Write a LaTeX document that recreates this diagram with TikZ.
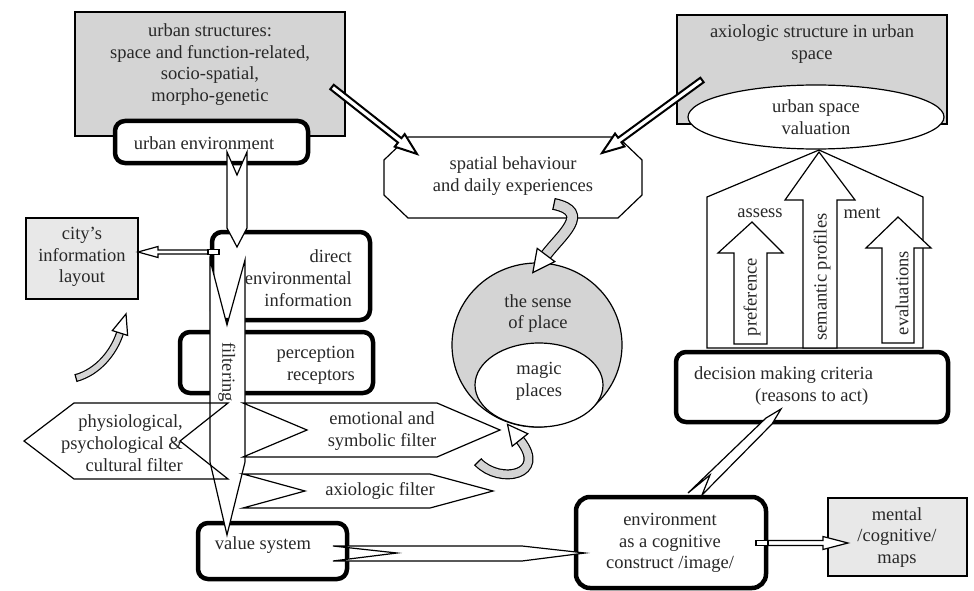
\documentclass[tikz,border=0pt]{standalone}
\usepackage{fontspec}
\setmainfont{Liberation Serif}
\usetikzlibrary{calc,shapes.geometric}

\definecolor{boxgray}{RGB}{212,212,212}
\definecolor{palegray}{RGB}{232,232,232}
\definecolor{inkgray}{RGB}{40,40,40}

% narrow block arrow: from, to, shaft half width, head half width, head length
\newcommand{\blockarrow}[6][]{%
  \coordinate (ba-s) at (#2);
  \coordinate (ba-t) at (#3);
  \coordinate (ba-h) at ($(ba-t)!#6!(ba-s)$);
  \draw[line width=1.2pt, fill=white, line join=miter, #1]
    ($(ba-s)!#4!90:(ba-t)$) -- ($(ba-h)!#4!90:(ba-t)$) -- ($(ba-h)!#5!90:(ba-t)$)
    -- (ba-t) -- ($(ba-h)!#5!-90:(ba-t)$) -- ($(ba-h)!#4!-90:(ba-t)$)
    -- ($(ba-s)!#4!-90:(ba-t)$) -- cycle;
}
% curved gray band arrow: start, c1, c2, end, outer width, inner width, half width, head half width, head length
\newcommand{\bandarrow}[9]{%
  \draw[line width=#5] (#1) .. controls (#2) and (#3) .. (#4);
  \draw[line width=#6, boxgray] (#1) .. controls (#2) and (#3) .. (#4);
  \draw[line width=1.2pt] ($(#1)!#7!90:(#2)$) -- ($(#1)!#7!-90:(#2)$);
  \draw[line width=1.2pt, fill=white, line join=miter]
    ($(#4)!#8!90:(#3)$) -- ($(#4)!-#9!(#3)$) -- ($(#4)!#8!-90:(#3)$) -- cycle;
}

\begin{document}
\begin{tikzpicture}[x=1pt, y=-1pt,
    thinline/.style={line width=1.2pt, line join=miter},
    blk/.style={draw, line width=1.2pt, fill=white, line join=miter},
    framebox/.style={draw, line width=4.5pt, rounded corners=10pt, fill=white, inner sep=0pt},
    shadebox/.style={draw, line width=1.2pt, fill=boxgray, inner sep=0pt},
    palebox/.style={draw, line width=1.2pt, fill=palegray, inner sep=0pt},
    oval/.style={draw, ellipse, line width=1.2pt, fill=white, inner sep=0pt},
    lbl/.style={inner sep=0pt, align=center, text=inkgray, font=\fontsize{18.5}{21.8}\selectfont}]
    \useasboundingbox (0,0) rectangle (974,591);

    \node[shadebox, minimum width=270, minimum height=124] (struct) at (210,74) {};
    \node[shadebox, minimum width=270, minimum height=109] (axstruct) at (812,69.5) {};
    \node[framebox, minimum width=193, minimum height=42] (urbenv) at (211.5,142) {};
    \node[framebox, minimum width=158, minimum height=88] (direct) at (291,276) {};
    \node[framebox, minimum width=193, minimum height=61] (percep) at (276.5,362.5) {};
    \node[framebox, minimum width=149, minimum height=56] (valsys) at (272.5,551) {};

    \draw[blk] (227,152) -- (237,175) -- (247,152) -- (247,228) -- (237,247) -- (227,228) -- cycle;
    \draw[blk] (210,260) -- (227,325) -- (245,260) -- (245,462) -- (227,535) -- (210,462) -- cycle;

    \node[palebox, minimum width=112, minimum height=81] (city) at (82,258.5) {};
    \blockarrow{212,252}{138,252}{2pt}{5.5pt}{20pt}
    \draw[thinline, fill=white] (208,249.5) rectangle (219,254.5);

    \draw[thinline] (24,441) -- (74,403) -- (228,403) -- (180,441) -- (228,479) -- (74,479) -- cycle;
    \draw[blk] (243,403) -- (437,403) -- (500,430) -- (437,457) -- (243,457) -- (307,430) -- cycle;
    \draw[blk] (243,474) -- (430,474) -- (493,491) -- (430,508) -- (243,508) -- (305,491) -- cycle;

    \node[framebox, rounded corners=14pt, minimum width=190, minimum height=91] (envir) at (671,542.5) {};
    \draw[blk] (333,546) -- (522,546) -- (585,553) -- (522,561) -- (333,561) -- (397,553) -- cycle;
    \node[palebox, minimum width=139, minimum height=78] (mental) at (897.5,537) {};
    \blockarrow{768,543}{848,543}{2.5pt}{6.5pt}{25pt}
    \draw[thinline, fill=white] (756,540.5) rectangle (768,545.5);

    \node[framebox, minimum width=272, minimum height=70] (decision) at (812,387) {};
    \draw[blk] (688,493) -- (710,475) -- (702,495) -- (772,424) -- (781,409) -- (766,418) -- cycle;

    \node[oval, minimum width=256, minimum height=64] (valuation) at (816,117) {};
    \draw[blk] (819,150) -- (923,197) -- (923,348) -- (707,348) -- (707,197) -- cycle;
    \draw[blk] (819,152) -- (855,200) -- (837,200) -- (837,348) -- (803,348) -- (803,200) -- (785,200) -- cycle;
    \draw[blk] (752,222) -- (783,253) -- (767,253) -- (767,344) -- (734,344) -- (734,253) -- (718,253) -- cycle;
    \draw[blk] (898,217) -- (931,248) -- (914,248) -- (914,343) -- (882,343) -- (882,248) -- (866,248) -- cycle;

    \draw[blk] (408,137) -- (618,137) -- (642,160) -- (642,195) -- (618,218) -- (408,218) -- (384,195) -- (384,160) -- cycle;
    \blockarrow[line width=2pt]{332,87}{417,154}{2.8pt}{8pt}{22pt}
    \blockarrow[line width=2pt]{702,80}{602,153}{2.8pt}{8pt}{22pt}

    \node[draw, ellipse, thinline, fill=boxgray, inner sep=0pt, minimum width=170, minimum height=164] (sense) at (537,345) {};
    \node[oval, minimum width=128, minimum height=84] (magic) at (539,385) {};

    \bandarrow{554,204}{592,212}{561,235}{546,255}{12pt}{9.6pt}{6pt}{11pt}{22pt}
    \bandarrow{478,462}{500,485}{548,475}{520,440}{10pt}{7.6pt}{5pt}{10pt}{20pt}
    \bandarrow{76,378}{98,372}{114,352}{120,333}{8pt}{5.6pt}{4pt}{8pt}{20pt}

    \node[lbl] (struct-t) at (210,64.5) {urban structures:\\space and function-related,\\socio-spatial,\\morpho-genetic};
    \node[lbl] (urbenv-t) at (204,143) {urban environment};
    \node[lbl, align=right, anchor=east] (direct-t) at (352,278) {direct\\environmental\\information};
    \node[lbl, align=right, anchor=east] (percep-t) at (355,365) {perception\\receptors};
    \node[lbl] (city-t) at (82,257) {city's\\information\\layout};
    \node[lbl, rotate=-90] (filter-t) at (227,372) {filtering};
    \node[lbl, align=right, anchor=east] (physio-t) at (183,443) {physiological,\\psychological \&\\cultural filter};
    \node[lbl] (emo-t) at (382,431) {emotional and\\symbolic filter};
    \node[lbl] (axfilter-t) at (380,491) {axiologic filter};
    \node[lbl] (valsys-t) at (263,545) {value system};
    \node[lbl] (envir-t) at (670,543) {environment\\as a cognitive\\construct /image/};
    \node[lbl] (mental-t) at (897,537.5) {mental\\/cognitive/\\maps};
    \node[lbl, align=left, anchor=west] (decision-t) at (694,386) {decision making criteria\\\hspace*{61pt}(reasons to act)};
    \node[lbl] (behav-t) at (513,176) {spatial behaviour\\and daily experiences};
    \node[lbl] (sense-t) at (538,313.5) {the sense\\of place};
    \node[lbl] (magic-t) at (539,381) {magic\\places};
    \node[lbl] (axstruct-t) at (812,44) {axiologic structure in urban\\space};
    \node[lbl] (valuation-t) at (816,117.5) {urban space\\valuation};
    \node[lbl] (assess-t) at (760,213) {assess};
    \node[lbl] (ment-t) at (862,213) {ment};
    \node[lbl, rotate=90] (pref-t) at (752,297) {preference};
    \node[lbl, rotate=90] (sem-t) at (822,277) {semantic profiles};
    \node[lbl, rotate=90] (eval-t) at (902,293) {evaluations};
\end{tikzpicture}
\end{document}
